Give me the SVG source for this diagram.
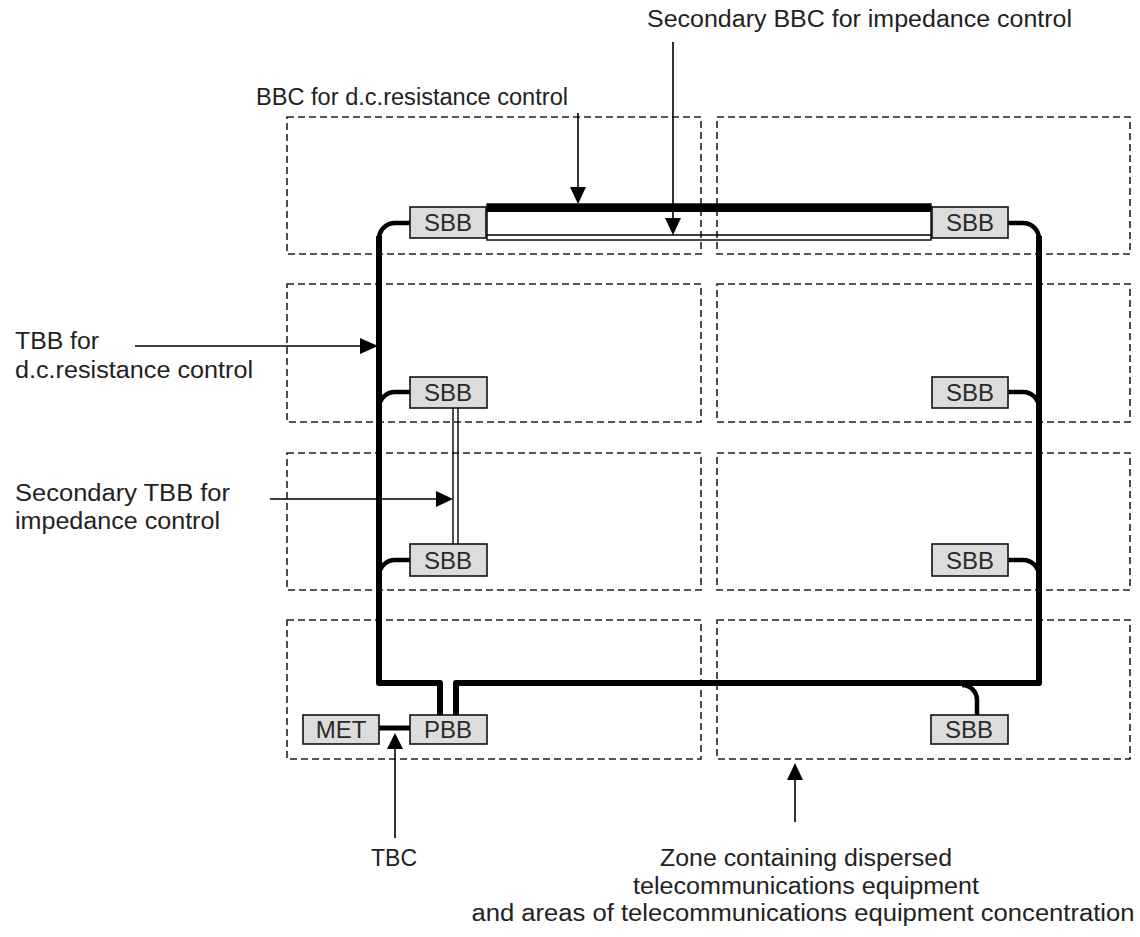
<svg xmlns="http://www.w3.org/2000/svg" width="1140" height="937" viewBox="0 0 1140 937">
<style>
.zone{fill:none;stroke:#222;stroke-width:1.6;stroke-dasharray:7 4}
.box{fill:#dcdcdc;stroke:#111;stroke-width:1.6}
.bt{font-family:"Liberation Sans",Arial,sans-serif;font-size:24px;fill:#2a2a2a;text-anchor:middle}
.lbl{font-family:"Liberation Sans",Arial,sans-serif;font-size:23px;fill:#222}
.trunk{fill:none;stroke:#000;stroke-width:6;stroke-linejoin:round}
.tap{fill:none;stroke:#000;stroke-width:4.5}
.thin{fill:none;stroke:#000;stroke-width:1.4}
.ptr{fill:none;stroke:#000;stroke-width:1.6}
.head{fill:#000}
</style>
<rect width="1140" height="937" fill="#fff"/>
<g id="zones">
<rect class="zone" x="287" y="117" width="414" height="137"/>
<rect class="zone" x="717" y="117" width="413" height="137"/>
<rect class="zone" x="287" y="284" width="414" height="138"/>
<rect class="zone" x="717" y="284" width="413" height="138"/>
<rect class="zone" x="287" y="453" width="414" height="137"/>
<rect class="zone" x="717" y="453" width="413" height="137"/>
<rect class="zone" x="287" y="620" width="414" height="139"/>
<rect class="zone" x="717" y="620" width="413" height="139"/>
</g>
<g id="connectors">
<path class="trunk" d="M379,236 V683 H440 V715"/>
<path class="trunk" d="M456,715 V683 H1039 V236"/>
<path class="tap" d="M410,223 H395 A16,16 0 0 0 379,239 V246"/>
<path class="tap" d="M1008,223 H1023 A16,16 0 0 1 1039,239 V246"/>
<path class="tap" d="M410,392 H395 A16,16 0 0 0 379,408"/>
<path class="tap" d="M1008,392 H1023 A16,16 0 0 1 1039,408"/>
<path class="tap" d="M410,560 H395 A16,16 0 0 0 379,576"/>
<path class="tap" d="M1008,560 H1023 A16,16 0 0 1 1039,576"/>
<path class="tap" d="M962,685 A15,15 0 0 1 977,700 V715"/>
<path class="tap" d="M379,728 H410" style="stroke-width:5"/>
<rect x="487" y="204" width="444" height="8" fill="#000"/>
<rect class="thin" x="487" y="204" width="444" height="36"/>
<line class="thin" x1="487" y1="235" x2="931" y2="235"/>
<line class="thin" x1="453" y1="408" x2="453" y2="544"/>
<line class="thin" x1="458" y1="408" x2="458" y2="544"/>
</g>
<g id="pointers">
<line class="ptr" x1="578" y1="113" x2="578" y2="190"/>
<polygon class="head" points="578,204 570,187 586,187"/>
<line class="ptr" x1="673" y1="42" x2="673" y2="220"/>
<polygon class="head" points="673,235 665,218 681,218"/>
<line class="ptr" x1="135" y1="346" x2="362" y2="346"/>
<polygon class="head" points="378,346 360,338 360,354"/>
<line class="ptr" x1="270" y1="499" x2="438" y2="499"/>
<polygon class="head" points="453,499 436,491 436,507"/>
<line class="ptr" x1="395" y1="838" x2="395" y2="747"/>
<polygon class="head" points="395,733 387,749 403,749"/>
<line class="ptr" x1="795" y1="822" x2="795" y2="778"/>
<polygon class="head" points="795,763 787,780 803,780"/>
</g>
<g id="sbb-top-left"><rect class="box" x="410" y="207" width="76" height="31"/><text class="bt" x="448" y="231">SBB</text></g>
<g id="sbb-top-right"><rect class="box" x="932" y="207" width="76" height="31"/><text class="bt" x="970" y="231">SBB</text></g>
<g id="sbb-r2-left"><rect class="box" x="410" y="377" width="77" height="31"/><text class="bt" x="448" y="401">SBB</text></g>
<g id="sbb-r2-right"><rect class="box" x="932" y="377" width="76" height="31"/><text class="bt" x="970" y="401">SBB</text></g>
<g id="sbb-r3-left"><rect class="box" x="410" y="544" width="77" height="32"/><text class="bt" x="448" y="569">SBB</text></g>
<g id="sbb-r3-right"><rect class="box" x="932" y="544" width="76" height="32"/><text class="bt" x="970" y="569">SBB</text></g>
<g id="met"><rect class="box" x="303" y="715" width="76" height="29"/><text class="bt" x="341" y="738">MET</text></g>
<g id="pbb"><rect class="box" x="410" y="715" width="77" height="29"/><text class="bt" x="448" y="738">PBB</text></g>
<g id="sbb-bottom-right"><rect class="box" x="931" y="715" width="77" height="29"/><text class="bt" x="969" y="738">SBB</text></g>
<g id="labels">
<text class="lbl" x="647" y="27" textLength="425" lengthAdjust="spacingAndGlyphs">Secondary BBC for impedance control</text>
<text class="lbl" x="256" y="105" textLength="312" lengthAdjust="spacingAndGlyphs">BBC for d.c.resistance control</text>
<text class="lbl" x="15" y="349" textLength="84" lengthAdjust="spacingAndGlyphs">TBB for</text>
<text class="lbl" x="15" y="378" textLength="238" lengthAdjust="spacingAndGlyphs">d.c.resistance control</text>
<text class="lbl" x="15" y="501" textLength="215" lengthAdjust="spacingAndGlyphs">Secondary TBB for</text>
<text class="lbl" x="15" y="529" textLength="205" lengthAdjust="spacingAndGlyphs">impedance control</text>
<text class="lbl" x="394" y="866" text-anchor="middle">TBC</text>
<text class="lbl" x="806" y="866" text-anchor="middle" textLength="292" lengthAdjust="spacingAndGlyphs">Zone containing dispersed</text>
<text class="lbl" x="806" y="894" text-anchor="middle" textLength="346" lengthAdjust="spacingAndGlyphs">telecommunications equipment</text>
<text class="lbl" x="803" y="921" text-anchor="middle" textLength="663" lengthAdjust="spacingAndGlyphs">and areas of telecommunications equipment concentration</text>
</g>
</svg>
